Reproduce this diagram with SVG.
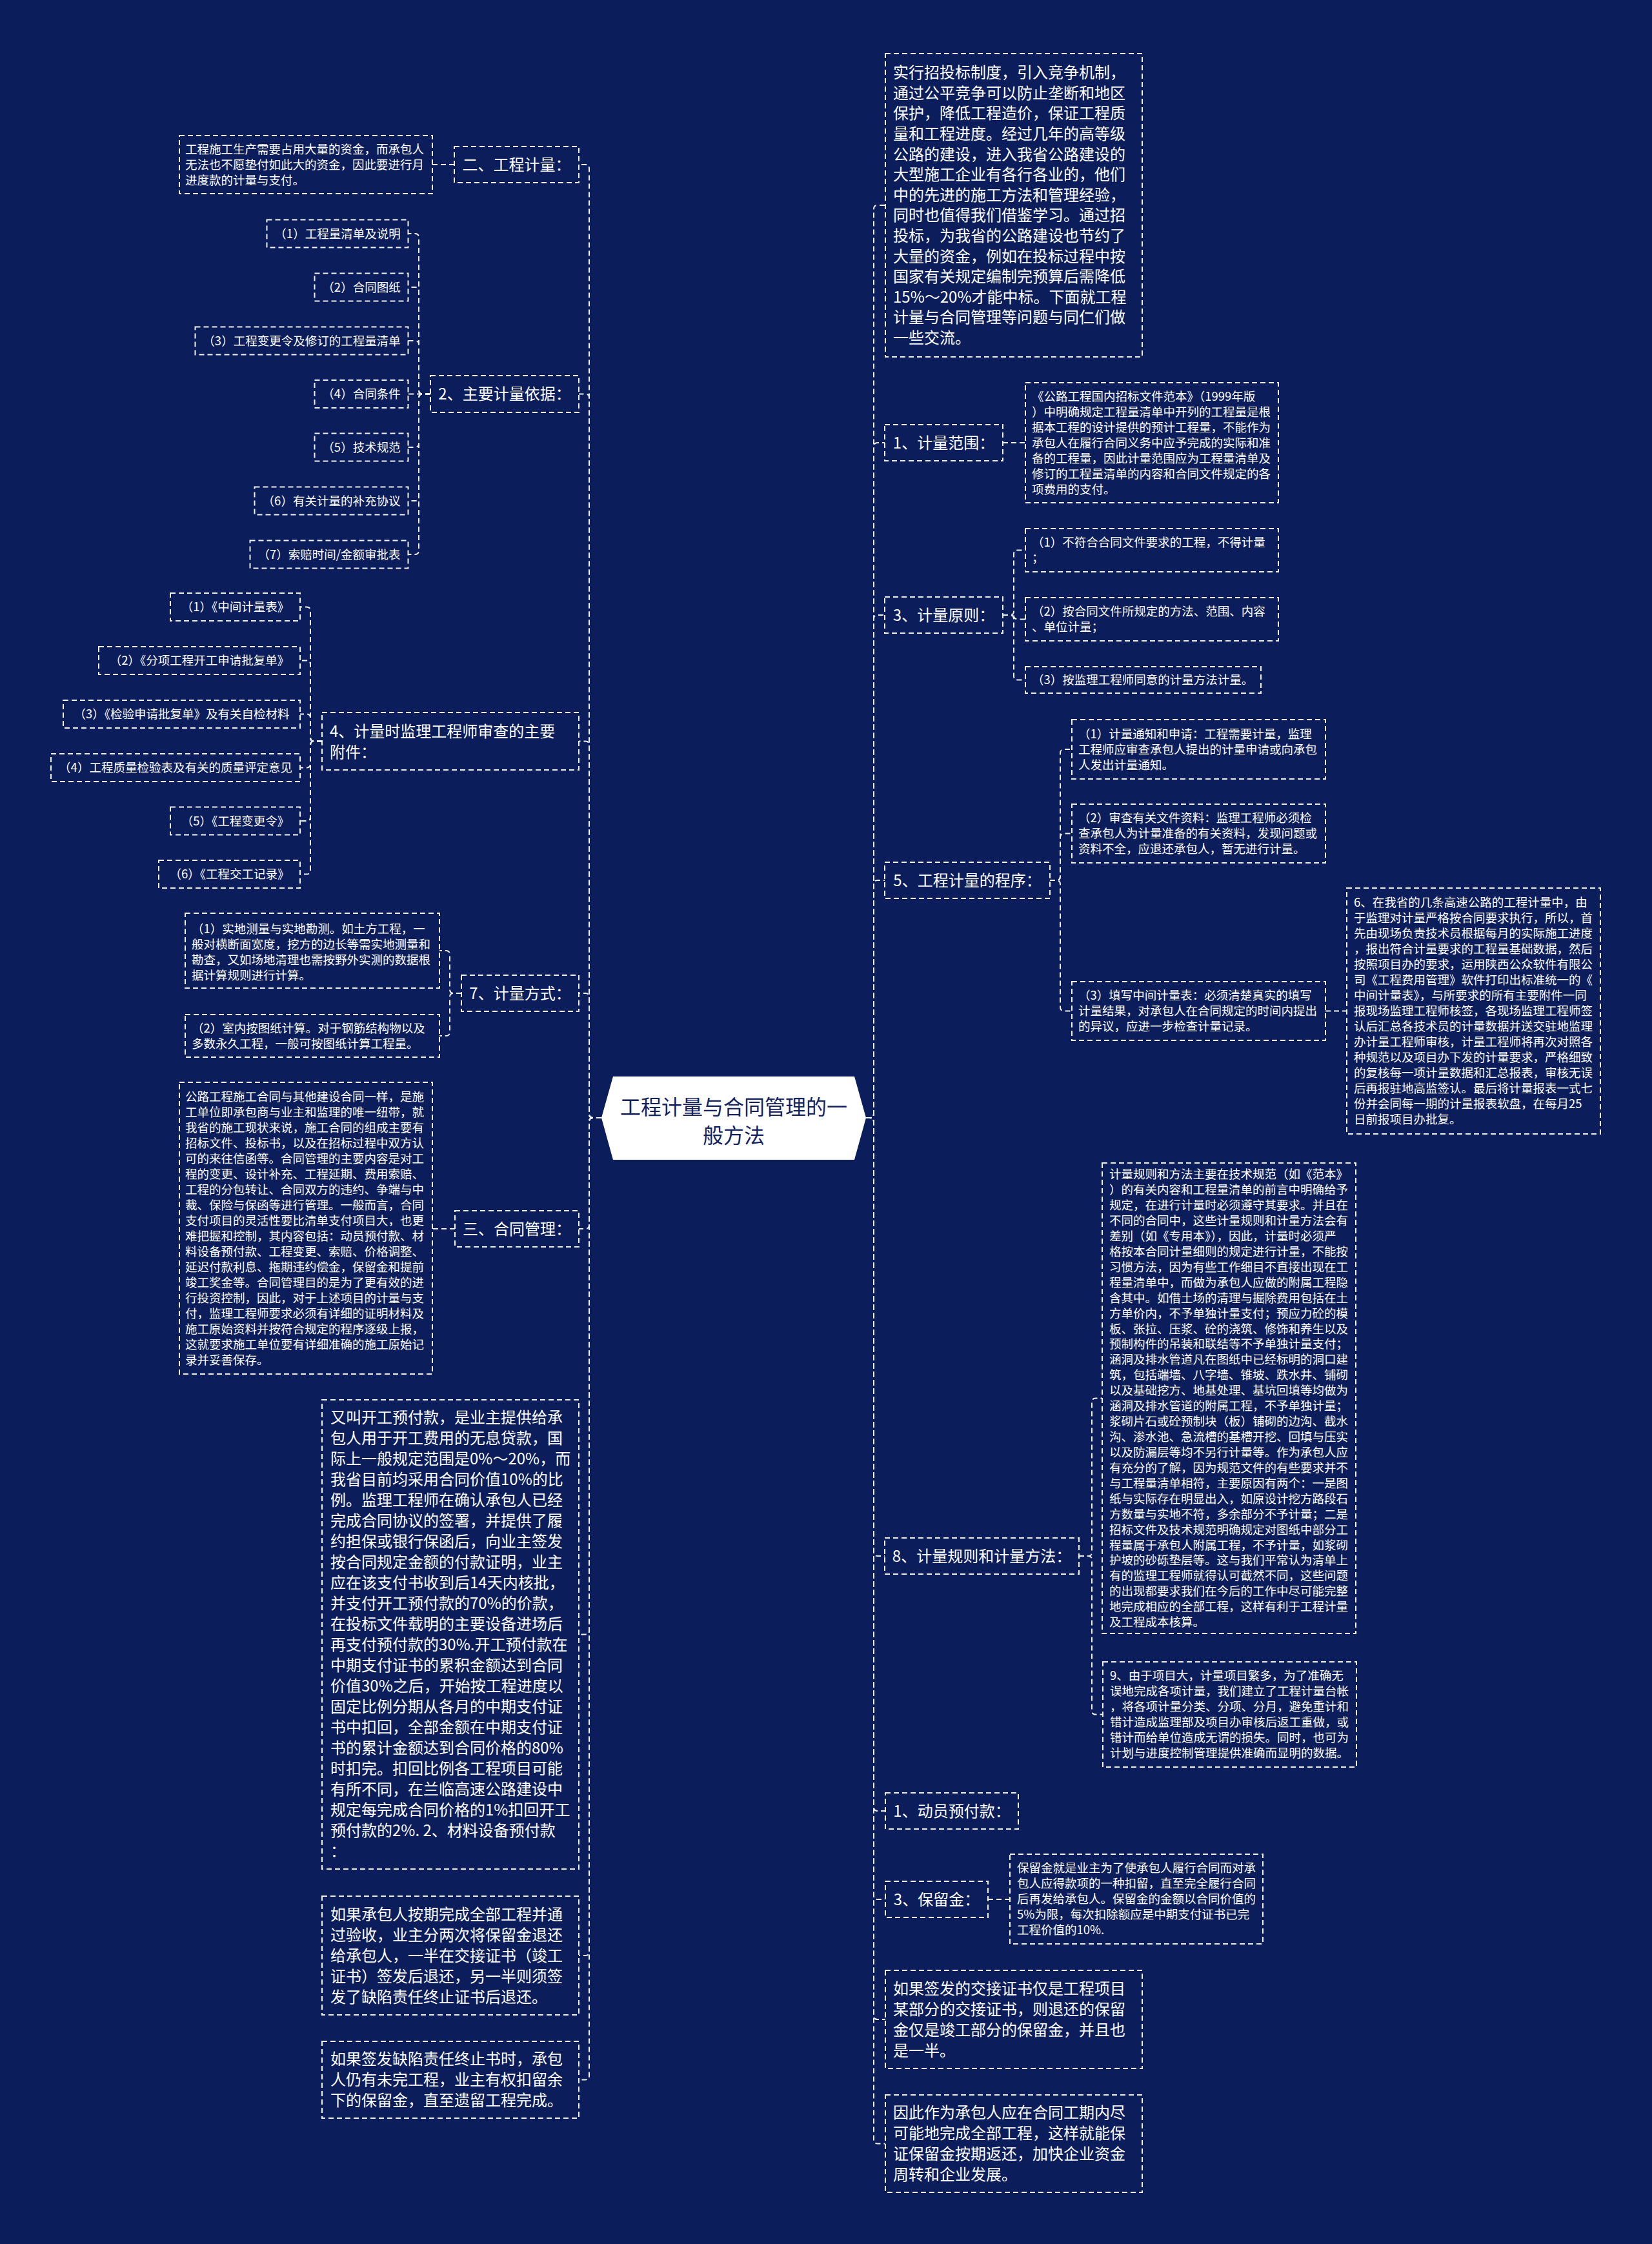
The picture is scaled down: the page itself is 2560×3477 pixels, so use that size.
<svg xmlns="http://www.w3.org/2000/svg" width="2560" height="3477" viewBox="0 0 2560 3477">
<style>
.bg{fill:#0b1d5a}
.bx{fill:none;stroke:#eef1f8;stroke-width:2;stroke-dasharray:8 5}
.cn{fill:none;stroke:#eef1f8;stroke-width:2;stroke-dasharray:8 5}
.t{font-family:"Noto Sans CJK SC","Noto Sans",sans-serif;fill:#ffffff}
.s{font-size:18.5px}
.m{font-size:24px}
.c{text-anchor:middle}
.root{fill:#ffffff}
.rt{font-family:"Noto Sans CJK SC","Noto Sans",sans-serif;font-size:32px;fill:#14235e;text-anchor:middle}
</style>
<rect class="bg" x="0" y="0" width="2560" height="3477"/>

<g id="connectors">
<!-- left trunk -->
<path class="cn" d="M932 1732H919Q913 1732 913 1726V261Q913 255 907 255H897"/>
<path class="cn" d="M932 1732H919Q913 1732 913 1726V616.5Q913 610.5 907 610.5H897"/>
<path class="cn" d="M932 1732H919Q913 1732 913 1726V1154.5Q913 1148.5 907 1148.5H897"/>
<path class="cn" d="M932 1732H919Q913 1732 913 1726V1545Q913 1539 907 1539H897"/>
<path class="cn" d="M932 1732H919Q913 1732 913 1738V1898Q913 1904 907 1904H897"/>
<path class="cn" d="M932 1732H919Q913 1732 913 1738V2526.5Q913 2532.5 907 2532.5H897"/>
<path class="cn" d="M932 1732H919Q913 1732 913 1738V3024Q913 3030 907 3030H897"/>
<path class="cn" d="M932 1732H919Q913 1732 913 1738V3216.5Q913 3222.5 907 3222.5H897"/>
<!-- right trunk -->
<path class="cn" d="M1342 1732H1348Q1354 1732 1354 1726V324Q1354 318 1360 318H1372"/>
<path class="cn" d="M1342 1732H1348Q1354 1732 1354 1726V692Q1354 686 1360 686H1371"/>
<path class="cn" d="M1342 1732H1348Q1354 1732 1354 1726V959Q1354 953 1360 953H1371"/>
<path class="cn" d="M1342 1732H1348Q1354 1732 1354 1726V1370Q1354 1364 1360 1364H1371"/>
<path class="cn" d="M1342 1732H1348Q1354 1732 1354 1738V2405Q1354 2411 1360 2411H1371"/>
<path class="cn" d="M1342 1732H1348Q1354 1732 1354 1738V2800Q1354 2806 1360 2806H1372"/>
<path class="cn" d="M1342 1732H1348Q1354 1732 1354 1738V2937Q1354 2943 1360 2943H1372"/>
<path class="cn" d="M1342 1732H1348Q1354 1732 1354 1738V3123Q1354 3129 1360 3129H1372"/>
<path class="cn" d="M1342 1732H1348Q1354 1732 1354 1738V3315.5Q1354 3321.5 1360 3321.5H1372"/>
<!-- 二 -->
<path class="cn" d="M704 255H670"/>
<!-- 2 主要计量依据 -->
<path class="cn" d="M667 610.5H655Q649 610.5 649 604.5V368Q649 362 643 362H632.5"/>
<path class="cn" d="M667 610.5H655Q649 610.5 649 604.5V451Q649 445 643 445H632.5"/>
<path class="cn" d="M667 610.5H655Q649 610.5 649 604.5V534Q649 528 643 528H632.5"/>
<path class="cn" d="M667 610.5H632.5"/>
<path class="cn" d="M667 610.5H655Q649 610.5 649 616.5V687Q649 693 643 693H632.5"/>
<path class="cn" d="M667 610.5H655Q649 610.5 649 616.5V770Q649 776 643 776H632.5"/>
<path class="cn" d="M667 610.5H655Q649 610.5 649 616.5V853Q649 859 643 859H632.5"/>
<!-- 4 附件 -->
<path class="cn" d="M499 1148.5H487Q481 1148.5 481 1142.5V946.5Q481 940.5 475 940.5H465"/>
<path class="cn" d="M499 1148.5H487Q481 1148.5 481 1142.5V1029.5Q481 1023.5 475 1023.5H465"/>
<path class="cn" d="M499 1148.5H487Q481 1148.5 481 1142.5V1112.5Q481 1106.5 475 1106.5H465"/>
<path class="cn" d="M499 1148.5H487Q481 1148.5 481 1154.5V1183.5Q481 1189.5 475 1189.5H465"/>
<path class="cn" d="M499 1148.5H487Q481 1148.5 481 1154.5V1266Q481 1272 475 1272H465"/>
<path class="cn" d="M499 1148.5H487Q481 1148.5 481 1154.5V1348.5Q481 1354.5 475 1354.5H465"/>
<!-- 7 计量方式 -->
<path class="cn" d="M715 1539H703Q697 1539 697 1533V1479Q697 1473 691 1473H681"/>
<path class="cn" d="M715 1539H703Q697 1539 697 1545V1599Q697 1605 691 1605H681"/>
<!-- 三 合同管理 -->
<path class="cn" d="M705 1904H670"/>
<!-- 1 计量范围 -->
<path class="cn" d="M1554 686H1589"/>
<!-- 3 计量原则 -->
<path class="cn" d="M1554 953H1565Q1571 953 1571 947V858.5Q1571 852.5 1577 852.5H1589"/>
<path class="cn" d="M1554 953H1565Q1571 953 1571 959V953.5Q1571 959.5 1577 959.5H1589"/>
<path class="cn" d="M1554 953H1565Q1571 953 1571 959V1047.5Q1571 1053.5 1577 1053.5H1589"/>
<!-- 5 程序 -->
<path class="cn" d="M1627 1364H1637Q1643 1364 1643 1358V1167Q1643 1161 1649 1161H1661"/>
<path class="cn" d="M1627 1364H1637Q1643 1364 1643 1358V1297.5Q1643 1291.5 1649 1291.5H1661"/>
<path class="cn" d="M1627 1364H1637Q1643 1364 1643 1370V1560.5Q1643 1566.5 1649 1566.5H1661"/>
<path class="cn" d="M2054 1566.5H2087"/>
<!-- 8 计量规则 -->
<path class="cn" d="M1672 2411H1686Q1692 2411 1692 2405V2172.5Q1692 2166.5 1698 2166.5H1708"/>
<path class="cn" d="M1672 2411H1686Q1692 2411 1692 2417V2650.5Q1692 2656.5 1698 2656.5H1709"/>
<!-- 3 保留金 -->
<path class="cn" d="M1531 2943H1565"/>
</g>

<g id="root">
<polygon class="root" points="932,1732 950,1668 1324,1668 1342,1732 1324,1797 950,1797"/>
<text class="rt"><tspan x="1137" y="1726.5">工程计量与合同管理的一</tspan><tspan x="1137" y="1770.5">般方法</tspan></text>
</g>

<!-- LEFT SIDE -->
<g id="n-er">
<rect class="bx" x="704" y="227" width="193" height="56"/>
<text class="t m c" x="800.5" y="263.6">二、工程计量：</text>
</g>
<g id="n-er-text">
<rect class="bx" x="278" y="210" width="392" height="90"/>
<text class="t s"><tspan x="287" y="237.7">工程施工生产需要占用大量的资金，而承包人</tspan><tspan x="287" y="261.7">无法也不愿垫付如此大的资金，因此要进行月</tspan><tspan x="287" y="285.7">进度款的计量与支付。</tspan></text>
</g>

<g id="n-basis">
<rect class="bx" x="667" y="582" width="230" height="57"/>
<text class="t m c" x="782" y="619.1">2、主要计量依据：</text>
</g>
<g id="n-basis-1"><rect class="bx" x="413.5" y="340.5" width="219" height="43"/><text class="t s c" x="523" y="368.7">（1）工程量清单及说明</text></g>
<g id="n-basis-2"><rect class="bx" x="487.5" y="423.5" width="145" height="43"/><text class="t s c" x="560" y="451.7">（2）合同图纸</text></g>
<g id="n-basis-3"><rect class="bx" x="302.5" y="506.5" width="330" height="43"/><text class="t s c" x="467.5" y="534.7">（3）工程变更令及修订的工程量清单</text></g>
<g id="n-basis-4"><rect class="bx" x="487.5" y="589" width="145" height="43"/><text class="t s c" x="560" y="617.2">（4）合同条件</text></g>
<g id="n-basis-5"><rect class="bx" x="487.5" y="671.5" width="145" height="43"/><text class="t s c" x="560" y="699.7">（5）技术规范</text></g>
<g id="n-basis-6"><rect class="bx" x="394.5" y="754.5" width="238" height="43"/><text class="t s c" x="513.5" y="782.7">（6）有关计量的补充协议</text></g>
<g id="n-basis-7"><rect class="bx" x="387.5" y="837.5" width="245" height="43"/><text class="t s c" x="510" y="865.7">（7）索赔时间/金额审批表</text></g>

<g id="n-attach">
<rect class="bx" x="499" y="1104" width="398" height="89"/>
<text class="t m"><tspan x="511" y="1142">4、计量时监理工程师审查的主要</tspan><tspan x="511" y="1174">附件：</tspan></text>
</g>
<g id="n-attach-1"><rect class="bx" x="264" y="919" width="201" height="43"/><text class="t s c" x="364.5" y="947.2">（1）《中间计量表》</text></g>
<g id="n-attach-2"><rect class="bx" x="153" y="1002" width="312" height="43"/><text class="t s c" x="309" y="1030.2">（2）《分项工程开工申请批复单》</text></g>
<g id="n-attach-3"><rect class="bx" x="98" y="1085" width="367" height="43"/><text class="t s c" x="281.5" y="1113.2">（3）《检验申请批复单》及有关自检材料</text></g>
<g id="n-attach-4"><rect class="bx" x="79" y="1168" width="386" height="43"/><text class="t s c" x="272" y="1196.2">（4）工程质量检验表及有关的质量评定意见</text></g>
<g id="n-attach-5"><rect class="bx" x="264" y="1250.5" width="201" height="43"/><text class="t s c" x="364.5" y="1278.7">（5）《工程变更令》</text></g>
<g id="n-attach-6"><rect class="bx" x="246" y="1333" width="219" height="43"/><text class="t s c" x="355.5" y="1361.2">（6）《工程交工记录》</text></g>

<g id="n-method">
<rect class="bx" x="715" y="1511" width="182" height="56"/>
<text class="t m c" x="806" y="1547.6">7、计量方式：</text>
</g>
<g id="n-method-1">
<rect class="bx" x="287" y="1415" width="394" height="116"/>
<text class="t s"><tspan x="297" y="1446.2">（1）实地测量与实地勘测。如土方工程，一</tspan><tspan x="297" y="1470.2">般对横断面宽度，挖方的边长等需实地测量和</tspan><tspan x="297" y="1494.2">勘查，又如场地清理也需按野外实测的数据根</tspan><tspan x="297" y="1518.2">据计算规则进行计算。</tspan></text>
</g>
<g id="n-method-2">
<rect class="bx" x="287" y="1572" width="394" height="66"/>
<text class="t s"><tspan x="297" y="1599.7">（2）室内按图纸计算。对于钢筋结构物以及</tspan><tspan x="297" y="1623.7">多数永久工程，一般可按图纸计算工程量。</tspan></text>
</g>

<g id="n-contract">
<rect class="bx" x="705" y="1876" width="192" height="56"/>
<text class="t m c" x="801" y="1912.6">三、合同管理：</text>
</g>
<g id="n-contract-text">
<rect class="bx" x="278" y="1677" width="392" height="452"/>
<text class="t s"><tspan x="287" y="1705.7">公路工程施工合同与其他建设合同一样，是施</tspan><tspan x="287" dy="24">工单位即承包商与业主和监理的唯一纽带，就</tspan><tspan x="287" dy="24">我省的施工现状来说，施工合同的组成主要有</tspan><tspan x="287" dy="24">招标文件、投标书，以及在招标过程中双方认</tspan><tspan x="287" dy="24">可的来往信函等。合同管理的主要内容是对工</tspan><tspan x="287" dy="24">程的变更、设计补充、工程延期、费用索赔、</tspan><tspan x="287" dy="24">工程的分包转让、合同双方的违约、争端与中</tspan><tspan x="287" dy="24">裁、保险与保函等进行管理。一般而言，合同</tspan><tspan x="287" dy="24">支付项目的灵活性要比清单支付项目大，也更</tspan><tspan x="287" dy="24">难把握和控制，其内容包括：动员预付款、材</tspan><tspan x="287" dy="24">料设备预付款、工程变更、索赔、价格调整、</tspan><tspan x="287" dy="24">延迟付款利息、拖期违约偿金，保留金和提前</tspan><tspan x="287" dy="24">竣工奖金等。合同管理目的是为了更有效的进</tspan><tspan x="287" dy="24">行投资控制，因此，对于上述项目的计量与支</tspan><tspan x="287" dy="24">付，监理工程师要求必须有详细的证明材料及</tspan><tspan x="287" dy="24">施工原始资料并按符合规定的程序逐级上报，</tspan><tspan x="287" dy="24">这就要求施工单位要有详细准确的施工原始记</tspan><tspan x="287" dy="24">录并妥善保存。</tspan></text>
</g>

<g id="n-advance-text">
<rect class="bx" x="499" y="2169" width="398" height="727"/>
<text class="t m"><tspan x="512" y="2205.1">又叫开工预付款，是业主提供给承</tspan><tspan x="512" dy="32">包人用于开工费用的无息贷款，国</tspan><tspan x="512" dy="32">际上一般规定范围是0%～20%，而</tspan><tspan x="512" dy="32">我省目前均采用合同价值10%的比</tspan><tspan x="512" dy="32">例。监理工程师在确认承包人已经</tspan><tspan x="512" dy="32">完成合同协议的签署，并提供了履</tspan><tspan x="512" dy="32">约担保或银行保函后，向业主签发</tspan><tspan x="512" dy="32">按合同规定金额的付款证明，业主</tspan><tspan x="512" dy="32">应在该支付书收到后14天内核批，</tspan><tspan x="512" dy="32">并支付开工预付款的70%的价款，</tspan><tspan x="512" dy="32">在投标文件载明的主要设备进场后</tspan><tspan x="512" dy="32">再支付预付款的30%.开工预付款在</tspan><tspan x="512" dy="32">中期支付证书的累积金额达到合同</tspan><tspan x="512" dy="32">价值30%之后，开始按工程进度以</tspan><tspan x="512" dy="32">固定比例分期从各月的中期支付证</tspan><tspan x="512" dy="32">书中扣回，全部金额在中期支付证</tspan><tspan x="512" dy="32">书的累计金额达到合同价格的80%</tspan><tspan x="512" dy="32">时扣完。扣回比例各工程项目可能</tspan><tspan x="512" dy="32">有所不同，在兰临高速公路建设中</tspan><tspan x="512" dy="32">规定每完成合同价格的1%扣回开工</tspan><tspan x="512" dy="32">预付款的2%. 2、材料设备预付款</tspan><tspan x="512" dy="32">：</tspan></text>
</g>

<g id="n-retention-return">
<rect class="bx" x="499" y="2938" width="398" height="184"/>
<text class="t m"><tspan x="512" y="2974.6">如果承包人按期完成全部工程并通</tspan><tspan x="512" dy="32">过验收，业主分两次将保留金退还</tspan><tspan x="512" dy="32">给承包人，一半在交接证书（竣工</tspan><tspan x="512" dy="32">证书）签发后退还，另一半则须签</tspan><tspan x="512" dy="32">发了缺陷责任终止证书后退还。</tspan></text>
</g>

<g id="n-defect">
<rect class="bx" x="499" y="3163" width="398" height="119"/>
<text class="t m"><tspan x="512" y="3199.1">如果签发缺陷责任终止书时，承包</tspan><tspan x="512" dy="32">人仍有未完工程，业主有权扣留余</tspan><tspan x="512" dy="32">下的保留金，直至遗留工程完成。</tspan></text>
</g>

<!-- RIGHT SIDE -->
<g id="n-intro">
<rect class="bx" x="1372" y="83" width="398" height="470"/>
<text class="t m"><tspan x="1384" y="121.2">实行招投标制度，引入竞争机制，</tspan><tspan x="1384" dy="31.6">通过公平竞争可以防止垄断和地区</tspan><tspan x="1384" dy="31.6">保护，降低工程造价，保证工程质</tspan><tspan x="1384" dy="31.6">量和工程进度。经过几年的高等级</tspan><tspan x="1384" dy="31.6">公路的建设，进入我省公路建设的</tspan><tspan x="1384" dy="31.6">大型施工企业有各行各业的，他们</tspan><tspan x="1384" dy="31.6">中的先进的施工方法和管理经验，</tspan><tspan x="1384" dy="31.6">同时也值得我们借鉴学习。通过招</tspan><tspan x="1384" dy="31.6">投标，为我省的公路建设也节约了</tspan><tspan x="1384" dy="31.6">大量的资金，例如在投标过程中按</tspan><tspan x="1384" dy="31.6">国家有关规定编制完预算后需降低</tspan><tspan x="1384" dy="31.6">15%～20%才能中标。下面就工程</tspan><tspan x="1384" dy="31.6">计量与合同管理等问题与同仁们做</tspan><tspan x="1384" dy="31.6">一些交流。</tspan></text>
</g>

<g id="n-scope">
<rect class="bx" x="1371" y="658" width="183" height="56"/>
<text class="t m c" x="1462.5" y="694.6">1、计量范围：</text>
</g>
<g id="n-scope-text">
<rect class="bx" x="1589" y="593" width="392" height="186"/>
<text class="t s"><tspan x="1599" y="620.7">《公路工程国内招标文件范本》（1999年版</tspan><tspan x="1599" dy="24">）中明确规定工程量清单中开列的工程量是根</tspan><tspan x="1599" dy="24">据本工程的设计提供的预计工程量，不能作为</tspan><tspan x="1599" dy="24">承包人在履行合同义务中应予完成的实际和准</tspan><tspan x="1599" dy="24">备的工程量，因此计量范围应为工程量清单及</tspan><tspan x="1599" dy="24">修订的工程量清单的内容和合同文件规定的各</tspan><tspan x="1599" dy="24">项费用的支付。</tspan></text>
</g>

<g id="n-principle">
<rect class="bx" x="1371" y="925" width="183" height="56"/>
<text class="t m c" x="1462.5" y="961.6">3、计量原则：</text>
</g>
<g id="n-principle-1">
<rect class="bx" x="1589" y="819" width="392" height="67"/>
<text class="t s"><tspan x="1599" y="847.2">（1）不符合合同文件要求的工程，不得计量</tspan><tspan x="1599" y="871.2">；</tspan></text>
</g>
<g id="n-principle-2">
<rect class="bx" x="1589" y="926" width="392" height="67"/>
<text class="t s"><tspan x="1599" y="954.2">（2）按合同文件所规定的方法、范围、内容</tspan><tspan x="1599" y="978.2">、单位计量；</tspan></text>
</g>
<g id="n-principle-3">
<rect class="bx" x="1589" y="1033" width="365" height="41"/>
<text class="t s" x="1599" y="1060.2">（3）按监理工程师同意的计量方法计量。</text>
</g>

<g id="n-procedure">
<rect class="bx" x="1371" y="1336" width="256" height="56"/>
<text class="t m c" x="1499" y="1372.6">5、工程计量的程序：</text>
</g>
<g id="n-procedure-1">
<rect class="bx" x="1661" y="1115" width="393" height="92"/>
<text class="t s"><tspan x="1671" y="1143.7">（1）计量通知和申请：工程需要计量，监理</tspan><tspan x="1671" dy="24">工程师应审查承包人提出的计量申请或向承包</tspan><tspan x="1671" dy="24">人发出计量通知。</tspan></text>
</g>
<g id="n-procedure-2">
<rect class="bx" x="1661" y="1246" width="393" height="91"/>
<text class="t s"><tspan x="1671" y="1274.2">（2）审查有关文件资料：监理工程师必须检</tspan><tspan x="1671" dy="24">查承包人为计量准备的有关资料，发现问题或</tspan><tspan x="1671" dy="24">资料不全，应退还承包人，暂无进行计量。</tspan></text>
</g>
<g id="n-procedure-3">
<rect class="bx" x="1661" y="1521" width="393" height="91"/>
<text class="t s"><tspan x="1671" y="1549.2">（3）填写中间计量表：必须清楚真实的填写</tspan><tspan x="1671" dy="24">计量结果，对承包人在合同规定的时间内提出</tspan><tspan x="1671" dy="24">的异议，应进一步检查计量记录。</tspan></text>
</g>
<g id="n-procedure-6">
<rect class="bx" x="2087" y="1376" width="393" height="381"/>
<text class="t s"><tspan x="2098" y="1405.2">6、在我省的几条高速公路的工程计量中，由</tspan><tspan x="2098" dy="24">于监理对计量严格按合同要求执行，所以，首</tspan><tspan x="2098" dy="24">先由现场负责技术员根据每月的实际施工进度</tspan><tspan x="2098" dy="24">，报出符合计量要求的工程量基础数据，然后</tspan><tspan x="2098" dy="24">按照项目办的要求，运用陕西公众软件有限公</tspan><tspan x="2098" dy="24">司《工程费用管理》软件打印出标准统一的《</tspan><tspan x="2098" dy="24">中间计量表》，与所要求的所有主要附件一同</tspan><tspan x="2098" dy="24">报现场监理工程师核签，各现场监理工程师签</tspan><tspan x="2098" dy="24">认后汇总各技术员的计量数据并送交驻地监理</tspan><tspan x="2098" dy="24">办计量工程师审核，计量工程师将再次对照各</tspan><tspan x="2098" dy="24">种规范以及项目办下发的计量要求，严格细致</tspan><tspan x="2098" dy="24">的复核每一项计量数据和汇总报表，审核无误</tspan><tspan x="2098" dy="24">后再报驻地高监签认。最后将计量报表一式七</tspan><tspan x="2098" dy="24">份并会同每一期的计量报表软盘，在每月25</tspan><tspan x="2098" dy="24">日前报项目办批复。</tspan></text>
</g>

<g id="n-rules">
<rect class="bx" x="1371" y="2383" width="301" height="56"/>
<text class="t m c" x="1521.5" y="2419.6">8、计量规则和计量方法：</text>
</g>
<g id="n-rules-text">
<rect class="bx" x="1708" y="1802" width="393" height="729"/>
<text class="t s"><tspan x="1719" y="1826.2">计量规则和方法主要在技术规范（如《范本》</tspan><tspan x="1719" dy="23.93">）的有关内容和工程量清单的前言中明确给予</tspan><tspan x="1719" dy="23.93">规定，在进行计量时必须遵守其要求。并且在</tspan><tspan x="1719" dy="23.93">不同的合同中，这些计量规则和计量方法会有</tspan><tspan x="1719" dy="23.93">差别（如《专用本》），因此，计量时必须严</tspan><tspan x="1719" dy="23.93">格按本合同计量细则的规定进行计量，不能按</tspan><tspan x="1719" dy="23.93">习惯方法，因为有些工作细目不直接出现在工</tspan><tspan x="1719" dy="23.93">程量清单中，而做为承包人应做的附属工程隐</tspan><tspan x="1719" dy="23.93">含其中。如借土场的清理与掘除费用包括在土</tspan><tspan x="1719" dy="23.93">方单价内，不予单独计量支付；预应力砼的模</tspan><tspan x="1719" dy="23.93">板、张拉、压浆、砼的浇筑、修饰和养生以及</tspan><tspan x="1719" dy="23.93">预制构件的吊装和联结等不予单独计量支付；</tspan><tspan x="1719" dy="23.93">涵洞及排水管道凡在图纸中已经标明的洞口建</tspan><tspan x="1719" dy="23.93">筑，包括端墙、八字墙、锥坡、跌水井、铺砌</tspan><tspan x="1719" dy="23.93">以及基础挖方、地基处理、基坑回填等均做为</tspan><tspan x="1719" dy="23.93">涵洞及排水管道的附属工程，不予单独计量；</tspan><tspan x="1719" dy="23.93">浆砌片石或砼预制块（板）铺砌的边沟、截水</tspan><tspan x="1719" dy="23.93">沟、渗水池、急流槽的基槽开挖、回填与压实</tspan><tspan x="1719" dy="23.93">以及防漏层等均不另行计量等。作为承包人应</tspan><tspan x="1719" dy="23.93">有充分的了解，因为规范文件的有些要求并不</tspan><tspan x="1719" dy="23.93">与工程量清单相符，主要原因有两个：一是图</tspan><tspan x="1719" dy="23.93">纸与实际存在明显出入，如原设计挖方路段石</tspan><tspan x="1719" dy="23.93">方数量与实地不符，多余部分不予计量；二是</tspan><tspan x="1719" dy="23.93">招标文件及技术规范明确规定对图纸中部分工</tspan><tspan x="1719" dy="23.93">程量属于承包人附属工程，不予计量，如浆砌</tspan><tspan x="1719" dy="23.93">护坡的砂砾垫层等。这与我们平常认为清单上</tspan><tspan x="1719" dy="23.93">有的监理工程师就得认可截然不同，这些问题</tspan><tspan x="1719" dy="23.93">的出现都要求我们在今后的工作中尽可能完整</tspan><tspan x="1719" dy="23.93">地完成相应的全部工程，这样有利于工程计量</tspan><tspan x="1719" dy="23.93">及工程成本核算。</tspan></text>
</g>
<g id="n-rules-9">
<rect class="bx" x="1709" y="2575" width="393" height="163"/>
<text class="t s"><tspan x="1720" y="2603.2">9、由于项目大，计量项目繁多，为了准确无</tspan><tspan x="1720" dy="24">误地完成各项计量，我们建立了工程计量台帐</tspan><tspan x="1720" dy="24">，将各项计量分类、分项、分月，避免重计和</tspan><tspan x="1720" dy="24">错计造成监理部及项目办审核后返工重做，或</tspan><tspan x="1720" dy="24">错计而给单位造成无谓的损失。同时，也可为</tspan><tspan x="1720" dy="24">计划与进度控制管理提供准确而显明的数据。</tspan></text>
</g>

<g id="n-mobilization">
<rect class="bx" x="1372" y="2778" width="206" height="56"/>
<text class="t m c" x="1475" y="2814.6">1、动员预付款：</text>
</g>

<g id="n-retention">
<rect class="bx" x="1372" y="2915" width="159" height="56"/>
<text class="t m c" x="1451.5" y="2951.6">3、保留金：</text>
</g>
<g id="n-retention-text">
<rect class="bx" x="1565" y="2873" width="392" height="139"/>
<text class="t s"><tspan x="1576" y="2901.2">保留金就是业主为了使承包人履行合同而对承</tspan><tspan x="1576" dy="24">包人应得款项的一种扣留，直至完全履行合同</tspan><tspan x="1576" dy="24">后再发给承包人。保留金的金额以合同价值的</tspan><tspan x="1576" dy="24">5%为限，每次扣除额应是中期支付证书已完</tspan><tspan x="1576" dy="24">工程价值的10%.</tspan></text>
</g>

<g id="n-handover">
<rect class="bx" x="1372" y="3053" width="398" height="152"/>
<text class="t m"><tspan x="1384" y="3089.6">如果签发的交接证书仅是工程项目</tspan><tspan x="1384" dy="32">某部分的交接证书，则退还的保留</tspan><tspan x="1384" dy="32">金仅是竣工部分的保留金，并且也</tspan><tspan x="1384" dy="32">是一半。</tspan></text>
</g>

<g id="n-conclusion">
<rect class="bx" x="1372" y="3246" width="398" height="151"/>
<text class="t m"><tspan x="1384" y="3282.1">因此作为承包人应在合同工期内尽</tspan><tspan x="1384" dy="32">可能地完成全部工程，这样就能保</tspan><tspan x="1384" dy="32">证保留金按期返还，加快企业资金</tspan><tspan x="1384" dy="32">周转和企业发展。</tspan></text>
</g>
</svg>
